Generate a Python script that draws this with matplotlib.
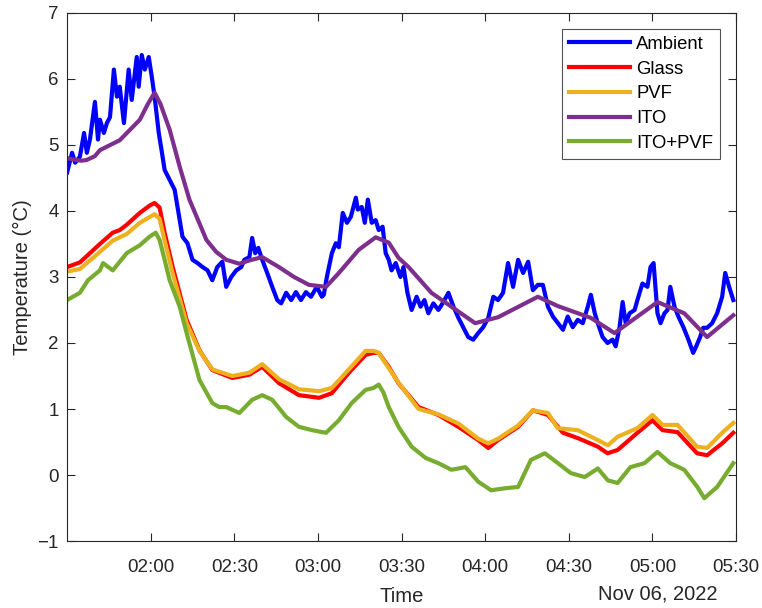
import numpy as np
import pandas as pd
import matplotlib
matplotlib.use("Agg")
import matplotlib.pyplot as plt
import matplotlib.dates as mdates

# --- Dati: minuti dopo le 01:30 e temperature (°C) ---
T0 = pd.Timestamp("2022-11-06 01:30")

amb_min = [0.0, 1.8, 2.9, 4.6, 6.1, 7.1, 8.2, 10.0, 11.1, 11.8, 13.2, 14.3, 15.4, 16.8, 17.9,
           18.9, 20.4, 22.1, 23.2, 25.0, 25.7, 26.8, 27.9, 29.3, 30.4, 31.4, 32.9, 33.9, 35.0,
           36.8, 38.6, 40.4, 41.4, 43.2, 45.0, 46.8, 48.6, 50.4, 52.1, 53.9, 55.7, 57.1, 58.9,
           60.7, 62.5, 63.6, 65.4, 66.4, 67.5, 68.6, 70.0, 71.8, 73.6, 75.4, 76.8, 78.6, 80.4,
           82.1, 83.9, 85.7, 87.5, 89.6, 91.4, 92.1, 93.2, 95.0, 96.4, 97.5, 98.9, 100.4, 101.8,
           103.6, 104.3, 105.7, 106.8, 107.9, 109.3, 110.7, 111.8, 113.2, 114.3, 115.4, 116.4,
           117.9, 119.6, 120.7, 122.1, 123.6, 125.4, 126.8, 128.2, 129.6, 131.4, 133.2,
           135.0, 136.8, 138.6, 140.4, 142.1, 143.9, 145.7, 147.5, 149.3, 151.1, 152.9,
           154.6, 156.4, 158.2, 160.0, 161.8, 163.6, 165.4, 167.1, 168.9, 170.7, 172.5, 174.3,
           176.1, 177.9, 179.6, 181.4, 183.2, 185.0, 186.8, 187.9, 189.3, 190.4, 192.1, 193.9,
           195.7, 196.8, 198.2, 199.3, 200.4, 201.8, 203.6, 204.6, 206.4, 208.2, 209.3, 210.4,
           211.8, 212.9, 214.3, 215.4, 216.4, 217.9, 219.3, 221.1, 222.9, 224.6, 225.7, 227.1,
           228.2, 229.6, 231.4, 233.2, 235.0, 236.1, 237.5, 239.0]
amb_val = [4.58, 4.88, 4.73, 4.82, 5.18, 4.88, 5.08, 5.65, 5.08, 5.38, 5.18, 5.33, 5.42, 6.14, 5.73,
           5.88, 5.33, 6.14, 5.68, 6.33, 5.88, 6.36, 6.14, 6.33, 6.03, 5.73, 5.18, 4.92, 4.62,
           4.47, 4.32, 3.86, 3.61, 3.51, 3.26, 3.21, 3.15, 3.10, 2.95, 3.15, 3.23, 2.85, 3.00,
           3.10, 3.15, 3.26, 3.30, 3.59, 3.36, 3.44, 3.26, 3.06, 2.85, 2.65, 2.60, 2.76, 2.65,
           2.77, 2.65, 2.77, 2.70, 2.85, 2.70, 2.73, 3.00, 3.36, 3.51, 3.45, 3.97, 3.82, 3.91,
           4.20, 4.02, 4.06, 3.82, 4.17, 3.82, 3.86, 3.71, 3.76, 3.36, 3.26, 3.10,
           3.21, 3.00, 3.15, 2.76, 2.50, 2.70, 2.55, 2.65, 2.45, 2.60, 2.50,
           2.62, 2.76, 2.55, 2.38, 2.24, 2.09, 2.05, 2.15, 2.24, 2.38, 2.70,
           2.65, 2.76, 3.21, 2.85, 3.26, 3.06, 3.23, 2.80, 2.88, 2.88, 2.55, 2.40,
           2.30, 2.20, 2.40, 2.24, 2.35, 2.30, 2.55, 2.73, 2.45, 2.30, 2.09, 2.00,
           2.05, 1.95, 2.24, 2.62, 2.30, 2.45, 2.50, 2.65, 2.90, 2.85, 3.15, 3.21,
           2.45, 2.30, 2.45, 2.50, 2.85, 2.55, 2.40, 2.24, 2.05, 1.85, 1.95, 2.09,
           2.23, 2.23, 2.30, 2.45, 2.70, 3.06, 2.85, 2.65]

glass_min = [0, 4.6, 11.8, 16.4, 18.9, 21.4, 26.1, 29.6, 31.4, 33.2, 35, 37.9, 42.9, 47.5, 52.1,
             59.3, 65.4, 70, 76.1, 83.2, 90.4, 95, 101.1, 107.1, 110, 111.8, 115.4, 118.9, 126.1,
             133.2, 140.4, 147.5, 151.1, 154.6, 161.8, 167.1, 172.5, 177.9, 183.2, 190.4, 193.9,
             197.5, 204.6, 210, 213.6, 219, 226, 229.6, 235, 239]
glass_val = [3.15, 3.22, 3.50, 3.67, 3.71, 3.79, 3.97, 4.08, 4.12, 4.05, 3.67, 3.15, 2.35, 1.89, 1.59,
             1.47, 1.52, 1.64, 1.39, 1.21, 1.17, 1.24, 1.55, 1.82, 1.85, 1.85, 1.64, 1.39, 1.03,
             0.91, 0.73, 0.53, 0.41, 0.53, 0.73, 0.98, 0.91, 0.64, 0.56, 0.43, 0.33,
             0.38, 0.64, 0.83, 0.68, 0.65, 0.33, 0.30, 0.48, 0.64]

pvf_min = [0, 4.6, 11.8, 16.4, 21.4, 26.1, 31.4, 33.2, 35, 37.9, 42.9, 47.5, 52.1, 59.3, 65.4, 70,
           76.1, 83.2, 90.4, 95, 101.1, 107.1, 110, 111.8, 115.4, 118.9, 126.1, 133.2, 140.4,
           147.5, 151.1, 154.6, 161.8, 167.1, 172.5, 176, 183.2, 190.4, 194, 197.5, 204.6, 210,
           213.6, 219, 226, 229.6, 235, 239]
pvf_val = [3.08, 3.12, 3.38, 3.55, 3.65, 3.82, 3.95, 3.88, 3.55, 3.05, 2.30, 1.88, 1.60, 1.50, 1.55, 1.68,
           1.45, 1.30, 1.27, 1.32, 1.60, 1.88, 1.88, 1.85, 1.62, 1.40, 1.00, 0.92, 0.78,
           0.55, 0.48, 0.55, 0.75, 0.98, 0.94, 0.71, 0.68, 0.53, 0.45, 0.58, 0.71, 0.91,
           0.76, 0.76, 0.43, 0.41, 0.64, 0.79]

ito_min = [0, 2, 5, 7, 10, 11.8, 18.9, 26.1, 29.0, 31.4, 33.5, 36.8, 40.4, 43.9, 50, 53.5, 57.1,
           61.8, 65.4, 70, 76, 81.4, 86.8, 92.9, 97.5, 104.6, 110.7, 115.4, 118.9, 122.5, 130.7,
           146.4, 154.6, 168.9, 176, 187.9, 196.4, 211.8, 221.4, 229.6, 239]
ito_val = [4.80, 4.78, 4.76, 4.77, 4.83, 4.92, 5.07, 5.38, 5.62, 5.79, 5.62, 5.23, 4.67, 4.17, 3.56,
           3.38, 3.26, 3.20, 3.25, 3.30, 3.15, 3.00, 2.88, 2.85, 3.06, 3.41, 3.60, 3.52, 3.29,
           3.15, 2.76, 2.30, 2.39, 2.70, 2.56, 2.38, 2.15, 2.62, 2.45, 2.09, 2.42]

itopvf_min = [0, 4.6, 7.5, 11.8, 12.9, 16.4, 21.4, 26.1, 29.6, 31.8, 33.2, 35, 36.8, 40.4, 42.9,
              47.5, 52.1, 54.6, 57.1, 61.8, 66.4, 70, 73.6, 78.6, 83.2, 87.9, 92.9, 97.5, 102.1,
              107.1, 110, 111.8, 113.5, 115.4, 118.9, 123.6, 128.6, 133.2, 137.9, 142.9, 147.5,
              152.1, 157.1, 161.8, 166.4, 171.4, 176.1, 180.7, 185.7, 190.4, 194, 197.5, 202.1,
              207.1, 211.8, 216.4, 221.4, 226.1, 228.6, 233.2, 239]
itopvf_val = [2.65, 2.76, 2.95, 3.10, 3.21, 3.10, 3.36, 3.48, 3.61, 3.67, 3.56, 3.26, 2.95, 2.55, 2.15,
              1.44, 1.09, 1.03, 1.03, 0.94, 1.14, 1.21, 1.14, 0.88, 0.73, 0.68, 0.64, 0.83, 1.09,
              1.29, 1.32, 1.37, 1.25, 1.03, 0.73, 0.43, 0.26, 0.18, 0.08, 0.12, -0.10,
              -0.23, -0.20, -0.18, 0.23, 0.33, 0.18, 0.03, -0.03, 0.10, -0.08, -0.12, 0.12,
              0.18, 0.35, 0.18, 0.08, -0.18, -0.35, -0.18, 0.18]

series = [
    ("Ambient", amb_min, amb_val, "#0000ff"),
    ("Glass", glass_min, glass_val, "#ff0000"),
    ("PVF", pvf_min, pvf_val, "#edb120"),
    ("ITO", ito_min, ito_val, "#7e2f8e"),
    ("ITO+PVF", itopvf_min, itopvf_val, "#77ac30"),
]


def to_time(minutes):
    return T0 + pd.to_timedelta(np.asarray(minutes, dtype=float), unit="min")


plt.rcParams["font.family"] = ["Liberation Sans", "DejaVu Sans"]
grey = "#262626"

fig = plt.figure(figsize=(7.62, 6.08), dpi=100)
ax = fig.add_axes([0.088, 0.110, 0.878, 0.869])

for name, m, v, c in series:
    ax.plot(to_time(m), v, color=c, lw=3.0, label=name)

ax.set_xlim(T0, T0 + pd.Timedelta(minutes=240))
ax.set_ylim(-1, 7)
ax.set_xticks(to_time(np.arange(30, 241, 30)))
ax.xaxis.set_major_formatter(mdates.DateFormatter("%H:%M"))
ax.set_yticks(np.arange(-1, 8, 1))

ax.tick_params(direction="in", length=6, width=0.8, top=True, right=True,
               labelsize=13.5, colors=grey)
ax.tick_params(axis="x", pad=13)
ax.tick_params(axis="y", pad=6)
for sp in ax.spines.values():
    sp.set_color(grey)
    sp.set_linewidth(0.8)

ax.set_xlabel("Time", fontsize=14.6, color=grey, labelpad=8)
ax.set_ylabel("Temperature (°C)", fontsize=14.6, color=grey, labelpad=4)
ax.text(0.9716, -0.1004, "Nov 06, 2022", transform=ax.transAxes, ha="right", va="center",
        fontsize=14.5, color=grey)

leg = ax.legend(loc="upper right", fontsize=13.3, frameon=True, fancybox=False,
                edgecolor=grey, handlelength=3.3, handletextpad=0.33, labelspacing=0.42,
                borderpad=0.38, borderaxespad=0.87)
leg.get_frame().set_linewidth(0.8)

fig.savefig("out.png", dpi=100)
